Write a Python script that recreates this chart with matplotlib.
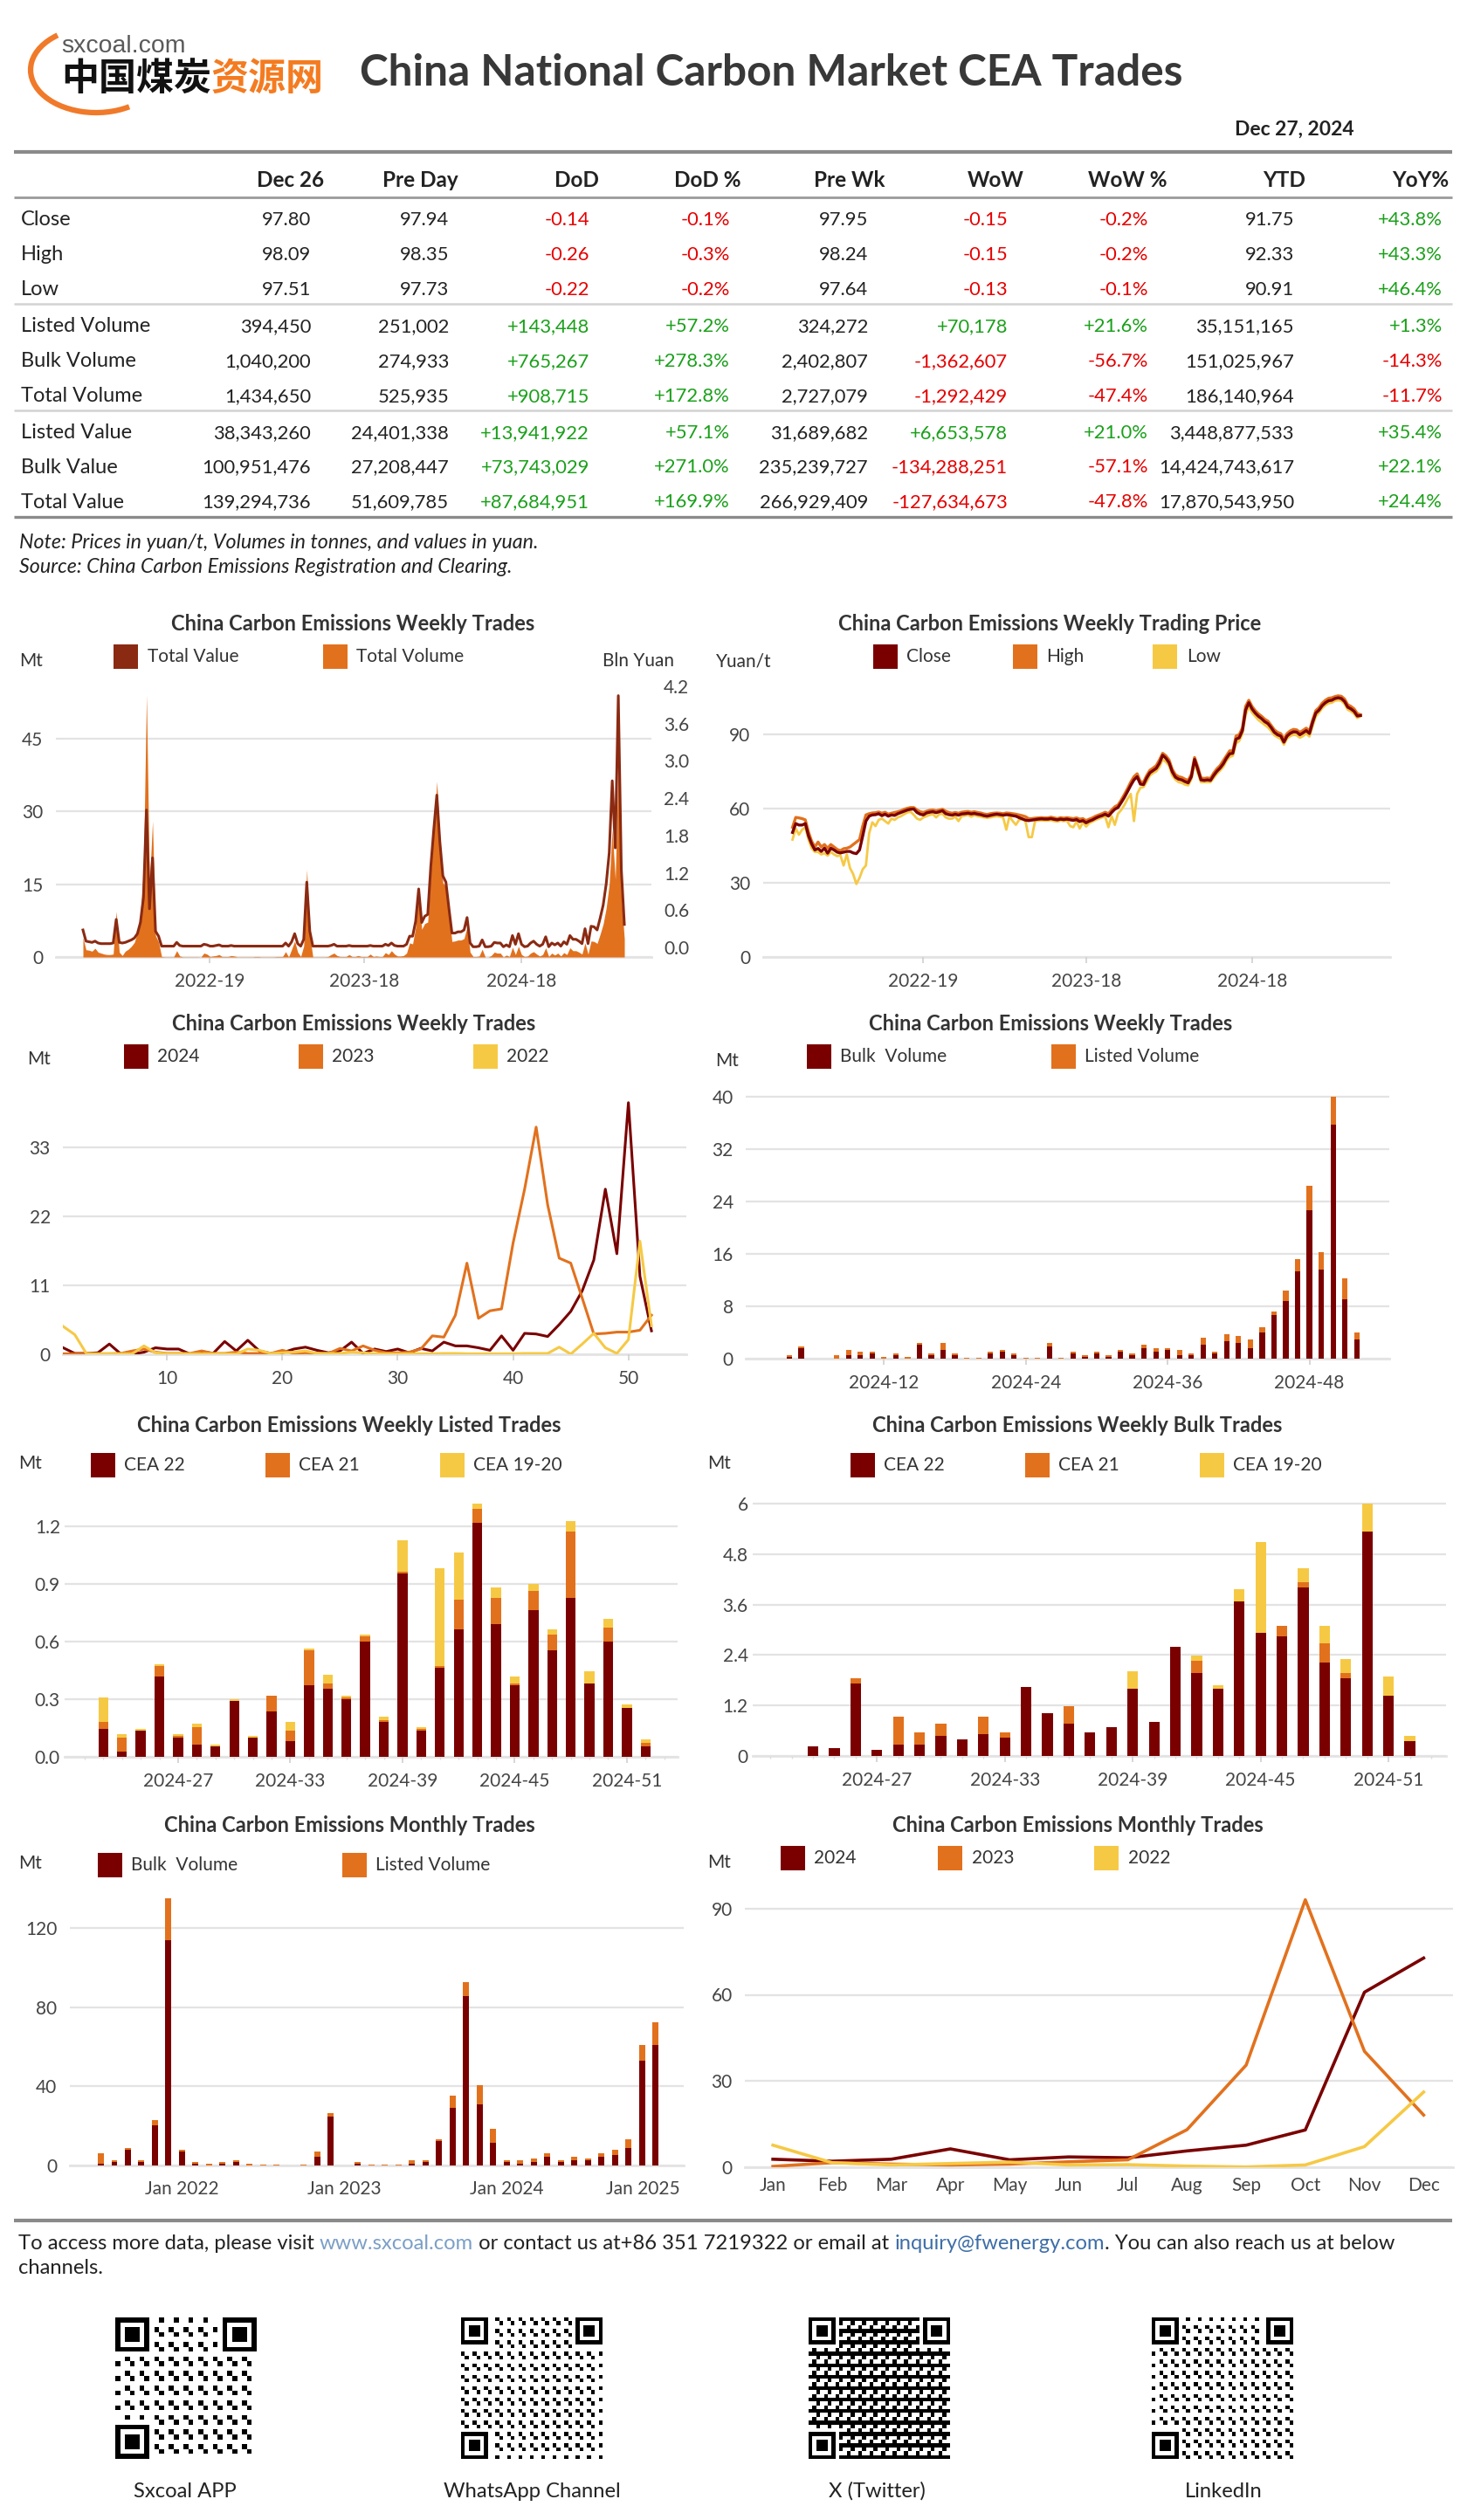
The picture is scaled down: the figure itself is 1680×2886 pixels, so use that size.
import numpy as np
import matplotlib
matplotlib.use("Agg")
import matplotlib.pyplot as plt
from matplotlib.patches import Rectangle, Arc
from matplotlib.ticker import FormatStrFormatter

W, H, DPI = 1680, 2886, 100
plt.rcParams['font.family'] = ['Lato', 'DejaVu Sans']

DARK = '#7a0000'
ORANGE = '#e2711d'
YELLOW = '#f6c945'
VALUE_RED = '#8b2a12'
GRID = '#e3e3e3'
TXT = '#333333'
TICK = '#444444'
RED = '#e60000'
GREEN = '#1aa01a'

# ---------------- table data ----------------
headers = ['Dec 26', 'Pre Day', 'DoD', 'DoD %', 'Pre Wk', 'WoW', 'WoW %', 'YTD', 'YoY%']
row_names = ['Close', 'High', 'Low', 'Listed Volume', 'Bulk Volume', 'Total Volume',
             'Listed Value', 'Bulk Value', 'Total Value']
table_rows = [
    ['97.80', '97.94', '-0.14', '-0.1%', '97.95', '-0.15', '-0.2%', '91.75', '+43.8%'],
    ['98.09', '98.35', '-0.26', '-0.3%', '98.24', '-0.15', '-0.2%', '92.33', '+43.3%'],
    ['97.51', '97.73', '-0.22', '-0.2%', '97.64', '-0.13', '-0.1%', '90.91', '+46.4%'],
    ['394,450', '251,002', '+143,448', '+57.2%', '324,272', '+70,178', '+21.6%', '35,151,165', '+1.3%'],
    ['1,040,200', '274,933', '+765,267', '+278.3%', '2,402,807', '-1,362,607', '-56.7%', '151,025,967', '-14.3%'],
    ['1,434,650', '525,935', '+908,715', '+172.8%', '2,727,079', '-1,292,429', '-47.4%', '186,140,964', '-11.7%'],
    ['38,343,260', '24,401,338', '+13,941,922', '+57.1%', '31,689,682', '+6,653,578', '+21.0%', '3,448,877,533', '+35.4%'],
    ['100,951,476', '27,208,447', '+73,743,029', '+271.0%', '235,239,727', '-134,288,251', '-57.1%', '14,424,743,617', '+22.1%'],
    ['139,294,736', '51,609,785', '+87,684,951', '+169.9%', '266,929,409', '-127,634,673', '-47.8%', '17,870,543,950', '+24.4%'],
]

# ---------------- weekly volume (Mt), 2021-29 .. 2024-52 ----------------
vol_2021 = [4.0, 1.5, 1.4, 1.2, 1.8, 1.0, 0.8, 0.6, 0.5, 0.5, 0.6, 9.4, 1.0, 0.3, 1.2, 1.6,
            2.2, 3.0, 5.0, 9.0, 18.0, 54.0, 15.0, 28.0]
vol_2022 = [4.4, 3.1, 0.1, 0.05, 0.05, 0.05, 0.05, 1.3, 0.2, 0.05,
            0.05, 0.05, 0.05, 0.05, 0.05, 0.0, 0.8, 0.6, 0.1, 0.2,
            0.3, 0.5, 0.1, 0.1, 0.1, 0.3, 0.2, 0.05, 0.05, 0.05,
            0.05, 0.05, 0.05, 0.1, 0.1, 0.05, 0.05, 0.05, 0.05, 0.05,
            0.1, 0.1, 0.1, 1.1, 0.0, 1.6, 3.3, 1.0, 0.1, 2.3,
            18.0, 4.5]
vol_2023 = [0.05, 0.05, 0.05, 0.05, 0.05, 0.1, 0.5, 0.8, 0.3, 0.1,
            0.1, 0.1, 0.5, 0.1, 0.1, 0.3, 0.1, 0.1, 0.1, 0.6,
            0.1, 0.2, 0.1, 0.1, 0.9, 0.5, 1.3, 0.6, 0.2, 0.2,
            0.3, 0.8, 2.9, 2.7, 6.2, 14.5, 5.7, 6.9, 7.2, 17.7,
            26.3, 36.2, 23.8, 15.3, 14.5, 8.9, 3.2, 3.3, 3.5, 3.5,
            3.8, 6.2]
vol_2024 = [1.0, 0.1, 0.1, 0.2, 1.6, 0.0, 0.0, 0.3, 1.0, 0.8,
            0.8, 0.0, 0.4, 0.1, 2.0, 0.5, 2.2, 0.5, 0.1, 0.2,
            0.8, 1.1, 0.6, 0.2, 0.5, 1.9, 0.1, 0.8, 0.4, 0.8,
            0.2, 0.9, 0.5, 1.9, 1.3, 1.3, 1.0, 0.6, 2.9, 0.6,
            3.3, 3.2, 2.8, 4.7, 6.8, 10.1, 15.0, 26.3, 16.0, 40.1,
            12.4, 3.7]

# weekly total value (bln yuan)
val_2021 = [0.28, 0.10, 0.09, 0.08, 0.10, 0.07, 0.06, 0.06, 0.06, 0.06, 0.07, 0.45, 0.08, 0.07,
            0.08, 0.10, 0.12, 0.15, 0.22, 0.40, 0.80, 2.21, 0.62, 1.44]
val_2022 = [0.26, 0.18, 0.02, 0.02, 0.02, 0.02, 0.02, 0.08, 0.03, 0.02,
            0.02, 0.02, 0.02, 0.02, 0.02, 0.02, 0.05, 0.04, 0.02, 0.02,
            0.03, 0.04, 0.02, 0.02, 0.02, 0.03, 0.02, 0.02, 0.02, 0.02,
            0.02, 0.02, 0.02, 0.02, 0.02, 0.02, 0.02, 0.02, 0.02, 0.02,
            0.02, 0.02, 0.02, 0.07, 0.02, 0.09, 0.22, 0.06, 0.02, 0.13,
            1.05, 0.26]
val_2023 = [0.02, 0.02, 0.02, 0.02, 0.02, 0.02, 0.03, 0.05, 0.02, 0.02,
            0.02, 0.02, 0.03, 0.02, 0.02, 0.02, 0.02, 0.02, 0.02, 0.03,
            0.02, 0.02, 0.02, 0.02, 0.05, 0.03, 0.07, 0.03, 0.02, 0.02,
            0.02, 0.05, 0.18, 0.18, 0.42, 0.94, 0.40, 0.50, 0.53, 1.30,
            1.90, 2.45, 1.70, 1.15, 1.05, 0.63, 0.23, 0.23, 0.25, 0.25,
            0.28, 0.48]
val_2024 = [0.07, 0.01, 0.01, 0.02, 0.12, 0.01, 0.01, 0.02, 0.08, 0.07,
            0.07, 0.01, 0.04, 0.01, 0.19, 0.05, 0.22, 0.05, 0.01, 0.02,
            0.07, 0.10, 0.05, 0.02, 0.05, 0.17, 0.01, 0.07, 0.04, 0.07,
            0.02, 0.09, 0.05, 0.19, 0.13, 0.13, 0.10, 0.06, 0.30, 0.06,
            0.34, 0.33, 0.28, 0.47, 0.68, 1.02, 1.52, 2.68, 1.60, 4.05,
            1.25, 0.37]

# ---------------- weekly price (yuan/t) ----------------
close = [50.4, 54.0, 53.4, 53.4, 54.0, 49.0, 45.7, 43.3, 43.9, 42.7,
         44.0, 42.0, 44.0, 43.3, 42.4, 42.1, 42.4, 42.7, 42.7, 42.1,
         41.8, 43.3, 49.0, 55.0, 57.0, 57.5, 57.6, 58.0, 57.2, 57.8,
         57.0, 57.5, 57.3, 58.0, 58.5, 59.0, 59.5, 59.8, 59.9, 58.5,
         57.8, 57.5, 58.3, 58.6, 58.8, 58.4, 58.8, 59.2, 58.0, 57.6,
         57.4, 57.8, 57.4, 57.9, 58.0, 58.2, 57.9, 58.1, 57.8, 57.6,
         57.2, 57.0, 57.3, 57.6, 57.8, 57.6, 57.4, 57.6, 57.5, 57.2,
         57.0, 56.4, 55.9, 55.4, 55.2, 55.4, 55.6, 55.8, 55.9, 55.8,
         55.8, 56.0, 55.7, 55.5, 55.8, 55.6, 55.8, 55.5, 55.3, 55.6,
         54.8, 55.2, 54.3, 55.0, 55.5, 56.2, 56.8, 57.2, 57.8, 57.0,
         58.5, 59.8, 60.5, 62.5, 64.6, 67.0, 69.5, 71.7, 73.0, 70.0,
         69.8, 72.5, 74.6, 75.5, 76.4, 78.5, 81.7, 80.5, 78.7, 75.0,
         72.8, 72.0, 71.7, 71.0, 70.5, 73.0, 80.0, 76.0, 71.7, 71.5,
         71.7, 71.5, 73.5, 75.2, 76.5, 78.2, 80.5, 82.3, 82.5, 88.2,
         88.8, 91.7, 100.0, 103.0, 100.5, 98.8, 97.5, 96.5, 95.3, 94.5,
         92.9, 91.0, 90.0, 89.5, 87.0, 89.5, 90.6, 91.2, 91.1, 90.0,
         90.8, 91.7, 90.5, 95.0, 98.8, 100.0, 101.8, 103.0, 103.8, 104.0,
         104.7, 105.0, 104.7, 103.5, 101.2, 100.5, 99.5, 97.6, 97.8]
high = [52.5, 56.5, 56.3, 56.0, 55.5, 50.5, 46.8, 44.5, 46.5, 44.5,
        45.5, 44.0, 45.5, 44.5, 43.5, 43.0, 43.8, 44.0, 44.5, 45.5,
        46.5, 47.5, 53.0, 57.5, 58.0, 58.3, 58.4, 58.7, 58.2, 58.6,
        57.8, 58.2, 58.5, 58.8, 59.2, 59.8, 60.2, 60.5, 60.5, 59.5,
        58.8, 58.5, 59.0, 59.4, 59.5, 59.2, 59.5, 59.8, 59.0, 58.5,
        58.2, 58.5, 58.2, 58.6, 58.8, 58.9, 58.6, 58.8, 58.5, 58.3,
        57.9, 57.7, 58.0, 58.2, 58.3, 58.2, 58.0, 58.3, 58.2, 58.0,
        57.8, 57.5, 57.2, 56.8, 56.0, 56.0, 56.2, 56.3, 56.4, 56.3,
        56.3, 56.6, 56.3, 56.0, 56.4, 56.2, 56.4, 56.2, 56.0, 56.3,
        55.8, 56.0, 55.2, 55.8, 56.3, 57.0, 57.5, 58.0, 58.6, 58.0,
        59.5, 60.8, 61.5, 63.5, 65.8, 68.2, 70.8, 73.0, 74.2, 71.0,
        70.8, 73.5, 75.6, 76.5, 77.5, 79.8, 82.5, 81.5, 79.8, 76.0,
        73.8, 73.0, 72.7, 72.0, 71.5, 74.0, 80.8, 77.0, 72.5, 72.3,
        72.5, 72.3, 74.5, 76.2, 77.5, 79.5, 81.5, 83.5, 83.5, 89.5,
        90.0, 92.8, 101.5, 104.0, 101.5, 99.8, 98.5, 97.5, 96.3, 95.5,
        93.8, 92.0, 91.0, 90.5, 88.2, 90.5, 91.6, 92.2, 92.0, 91.0,
        91.8, 92.7, 91.5, 96.0, 99.8, 101.0, 102.8, 104.0, 104.8, 105.0,
        105.5, 105.8, 105.6, 104.5, 102.2, 101.5, 100.5, 98.6, 98.1]
low = [47.5, 52.0, 49.5, 51.5, 52.5, 47.5, 44.0, 42.5, 42.5, 41.5,
       42.0, 41.0, 42.5, 41.5, 40.8, 41.2, 37.0, 41.5, 36.0, 33.5,
       29.5, 32.0, 35.5, 37.0, 50.0, 54.5, 53.0, 55.5, 56.0, 55.0,
       54.0, 56.0, 55.5, 56.5, 57.0, 57.8, 58.5, 58.8, 57.5, 56.0,
       55.5, 56.5, 57.0, 57.5, 57.8, 56.5, 57.8, 58.0, 56.5, 56.0,
       56.0, 56.8, 55.0, 57.0, 57.2, 57.5, 56.8, 57.4, 57.0, 56.8,
       56.5, 56.3, 56.5, 56.8, 57.0, 56.8, 56.5, 51.5, 57.0, 55.0,
       53.5, 55.5, 55.8, 55.0, 48.5, 48.5, 55.0, 55.2, 55.3, 55.2,
       55.2, 55.4, 55.0, 54.8, 55.2, 55.0, 55.2, 53.0, 52.5, 54.8,
       52.0, 54.5, 52.8, 54.2, 54.8, 55.5, 56.0, 56.5, 56.8, 52.5,
       57.0, 53.5, 58.0, 59.5, 61.5, 64.0, 66.0, 55.0, 66.0, 68.5,
       68.8, 71.0, 73.5, 74.5, 75.2, 77.0, 80.0, 79.0, 77.5, 73.5,
       71.8, 70.8, 70.5, 69.8, 69.5, 72.0, 78.5, 74.5, 70.8, 70.8,
       70.8, 70.8, 72.5, 74.2, 75.5, 77.0, 79.5, 81.0, 81.5, 86.5,
       87.5, 90.5, 98.0, 101.5, 99.0, 97.5, 96.0, 95.0, 94.0, 93.0,
       91.5, 89.8, 89.0, 88.3, 86.0, 88.5, 89.5, 90.0, 89.8, 88.8,
       89.5, 90.5, 89.3, 93.5, 97.5, 99.0, 100.8, 102.0, 102.8, 103.0,
       103.8, 104.0, 103.8, 102.5, 100.2, 99.5, 98.5, 96.8, 97.5]

# ---------------- 2024 weekly bulk / listed (Mt) ----------------
bulk_2024 = [0, 0, 0, 0.2, 1.6, 0, 0, 0, 0.5, 0.5, 0.8, 0, 0.5, 0, 2.1, 0.5, 1.3, 0.5, 0, 0,
             0.8, 1.0, 0.5, 0, 0, 1.8, 0, 0.8, 0.2, 0.8, 0.2, 1.0, 0.5, 1.6, 1.0, 1.3, 0.5, 0.5,
             2.1, 0.8, 2.6, 2.4, 1.6, 4.0, 6.6, 8.8, 13.3, 22.6, 13.6, 35.7, 9.0, 2.9]
listed_2024 = [0, 0, 0, 0.3, 0.2, 0, 0, 0.5, 0.8, 0.5, 0.2, 0.2, 0.3, 0.2, 0.3, 0.3, 1.1, 0.3, 0.1,
               0.1, 0.2, 0.3, 0.3, 0.1, 0.1, 0.6, 0.1, 0.2, 0.3, 0.2, 0.3, 0.3, 0.3, 0.5, 0.6, 0.3,
               0.8, 0.3, 1.1, 0.2, 1.1, 1.0, 1.3, 0.8, 0.6, 1.5, 1.9, 3.8, 2.6, 4.3, 3.2, 1.1]

# ---------------- weekly listed trades by vintage, 2024-23 .. 2024-52 ----------------
listed_weeks = list(range(23, 53))
listed_cea22 = [0.144, 0.026, 0.135, 0.417, 0.098, 0.062, 0.053, 0.289, 0.098, 0.235,
                0.080, 0.371, 0.353, 0.298, 0.598, 0.180, 0.953, 0.135, 0.462, 0.662,
                1.217, 0.689, 0.371, 0.762, 0.553, 0.826, 0.380, 0.598, 0.253, 0.053]
listed_cea21 = [0.036, 0.072, 0.0, 0.054, 0.010, 0.091, 0.0, 0.0, 0.0, 0.082,
                0.055, 0.182, 0.027, 0.010, 0.028, 0.009, 0.009, 0.009, 0.009, 0.155,
                0.072, 0.137, 0.009, 0.100, 0.082, 0.345, 0.0, 0.073, 0.0, 0.018]
listed_cea1920 = [0.128, 0.019, 0.009, 0.009, 0.009, 0.018, 0.009, 0.009, 0.010, 0.0,
                  0.045, 0.009, 0.046, 0.009, 0.009, 0.019, 0.164, 0.009, 0.509, 0.245,
                  0.028, 0.054, 0.037, 0.036, 0.027, 0.055, 0.064, 0.046, 0.018, 0.018]

# ---------------- weekly bulk trades by vintage, 2024-24 .. 2024-52 ----------------
bulk_weeks = list(range(24, 53))
bulk_cea22 = [0.23, 0.19, 1.72, 0.15, 0.27, 0.27, 0.48, 0.39, 0.52, 0.44, 1.64, 1.02, 0.77, 0.56,
              0.69, 1.60, 0.81, 2.60, 1.97, 1.60, 3.68, 2.93, 2.85, 4.01, 2.22, 1.85, 5.34, 1.43, 0.35]
bulk_cea21 = [0, 0, 0.13, 0, 0.66, 0.29, 0.29, 0, 0.41, 0.12, 0, 0, 0.41, 0, 0, 0, 0, 0, 0.29,
              0, 0, 0, 0.25, 0.12, 0.46, 0.12, 0, 0, 0]
bulk_cea1920 = [0, 0, 0, 0, 0, 0, 0, 0, 0, 0, 0, 0, 0, 0, 0, 0.42, 0, 0, 0.13, 0.08, 0.29, 2.16,
                0, 0.34, 0.42, 0.34, 0.66, 0.46, 0.13]

# ---------------- monthly bulk / listed (Mt), Jul 2021 .. Dec 2024 ----------------
monthly_bulk = [0.9, 1.8, 7.9, 1.8, 20.3, 113.8,
                7.1, 0.9, 0.0, 0.9, 1.8, 0.1, 0.0, 0.0, 0.0, 0.0, 4.4, 24.7,
                0.0, 0.9, 0.0, 0.0, 0.0, 0.9, 1.8, 12.4, 29.1, 85.6, 30.9, 11.5,
                1.8, 0.9, 1.8, 4.4, 1.8, 2.6, 2.6, 4.4, 5.3, 8.8, 52.9, 60.9]
monthly_listed = [5.3, 0.8, 0.9, 0.8, 2.6, 21.2,
                  0.8, 0.9, 0.9, 0.9, 0.8, 0.6, 0.6, 0.6, 0.0, 0.6, 2.7, 1.8,
                  0.0, 0.9, 0.6, 0.6, 0.6, 1.7, 0.8, 0.8, 6.2, 7.0, 9.7, 7.0,
                  0.8, 1.7, 1.7, 1.8, 0.8, 1.8, 0.9, 1.8, 2.6, 4.4, 8.0, 11.5]

# ---------------- monthly totals by year (Mt) ----------------
months = ['Jan', 'Feb', 'Mar', 'Apr', 'May', 'Jun', 'Jul', 'Aug', 'Sep', 'Oct', 'Nov', 'Dec']
mon_2024 = [2.7, 2.0, 2.7, 6.3, 2.5, 3.5, 3.2, 5.6, 7.6, 12.9, 60.9, 72.8]
mon_2023 = [0.2, 1.5, 1.0, 0.7, 1.0, 1.8, 2.5, 13.0, 35.5, 93.1, 40.3, 18.1]
mon_2022 = [7.6, 1.5, 0.7, 1.2, 1.7, 0.7, 0.8, 0.3, 0.0, 0.7, 7.1, 26.1]

# ================= figure =================
fig = plt.figure(figsize=(W / DPI, H / DPI), dpi=DPI)
ov = fig.add_axes([0, 0, 1, 1], zorder=10)
ov.set_xlim(0, W)
ov.set_ylim(H, 0)
ov.axis('off')
renderer = fig.canvas.get_renderer()


def rect(x0, x1, ytop, ybot):
    return [x0 / W, 1 - ybot / H, (x1 - x0) / W, (ybot - ytop) / H]


def txt(x, y, s, size=15, color=TXT, ha='left', va='center', **kw):
    return ov.text(x, y, s, fontsize=size, color=color, ha=ha, va=va, **kw)


def fit(t, width):
    w = t.get_window_extent(renderer).width
    t.set_fontsize(t.get_fontsize() * width / w)
    return t.get_fontsize()


def hline(y, x0, x1, color, lw):
    ov.plot([x0, x1], [y, y], color=color, lw=lw, solid_capstyle='butt')


# ---- header / logo ----
ov.add_patch(Arc((110, 80), 150, 98, theta1=48, theta2=222, color='#f07a2a', lw=4.5))
t = txt(70, 53, 'sxcoal.com', color='#5a5a5a', size=15,
        family=['Liberation Sans', 'DejaVu Sans'])
fit(t, 142)
t = txt(70, 90, '中国煤炭', size=31, color='#111111', fontweight='heavy',
        family=['Noto Sans CJK SC', 'DejaVu Sans'])
w_cn = t.get_window_extent(renderer).width
txt(70 + w_cn, 90, '资源网', size=31, color='#f47b20', fontweight='heavy',
    family=['Noto Sans CJK SC', 'DejaVu Sans'])
t = txt(412, 84, 'China National Carbon Market CEA Trades', size=30, color='#383838',
        fontweight='bold')
fit(t, 941)
t = txt(1551, 148, 'Dec 27, 2024', size=16, color='#222222', ha='right', fontweight='bold')
fit(t, 137)

# ---- table ----
hdr_right = [371, 525, 686, 849, 1013, 1173, 1337, 1495, 1659]
val_right = [356, 514, 675, 836, 994, 1154, 1315, 1482, 1652]
row_y = [252, 292, 332, 374, 414, 454, 496, 535, 575]
hline(174, 16, 1663, '#8a8a8a', 3)
hline(226, 16, 1663, '#9a9a9a', 2)
hline(348, 16, 1663, '#d2d2d2', 1.8)
hline(470, 16, 1663, '#d2d2d2', 1.8)
hline(592, 16, 1663, '#8a8a8a', 2.4)
for hx, hd in zip(hdr_right, headers):
    txt(hx, 207, hd, size=17.5, color='#222222', ha='right', fontweight='bold')
for ry, name, row in zip(row_y, row_names, table_rows):
    txt(24, ry, name, size=17, color='#222222')
    for ci, (vx, cell) in enumerate(zip(val_right, row)):
        c = '#222222'
        if ci in (2, 3, 5, 6, 8):
            c = GREEN if cell.startswith('+') else RED
        txt(vx, ry, cell, size=15.8, color=c, ha='right')
t = txt(22, 621, 'Note: Prices in yuan/t, Volumes in tonnes, and values in yuan.',
        size=15, color='#222222', style='italic')
fs_note = fit(t, 595)
txt(22, 650, 'Source: China Carbon Emissions Registration and Clearing.',
    size=fs_note, color='#222222', style='italic')


# ---- chart helpers ----
def chart_axes(x0, x1, ytop, ybot, ypad=10.5, xlen=5, xpad=8):
    ax = fig.add_axes(rect(x0, x1, ytop, ybot))
    for s in ax.spines.values():
        s.set_visible(False)
    ax.patch.set_alpha(0)
    ax.grid(axis='y', color=GRID, lw=1.6)
    ax.set_axisbelow(True)
    ax.tick_params(axis='y', length=0, labelsize=15, labelcolor=TICK, pad=ypad)
    ax.tick_params(axis='x', length=xlen, width=1.2, color='#d0d0d0', labelsize=15,
                   labelcolor=TICK, pad=xpad)
    ax.axhline(0, color=GRID, lw=2, clip_on=False, zorder=0.5)
    return ax


def legend(items, y):
    for xs, xt, c, lab in items:
        ov.add_patch(Rectangle((xs, y - 14), 28, 28, color=c, lw=0))
        txt(xt, y, lab, size=15)


title_t = txt(404, 714, 'China Carbon Emissions Weekly Trades', size=16, ha='center',
              fontweight='bold')
fs_title = fit(title_t, 418)


def title(x, y, s):
    txt(x, y, s, size=fs_title, ha='center', fontweight='bold')


# ---- chart 1: weekly total volume / value ----
total_vol = np.array(vol_2021 + vol_2022 + vol_2023 + vol_2024)
total_val = np.array(val_2021 + val_2022 + val_2023 + val_2024)
x_wk = np.arange(len(total_vol))
ax1 = chart_axes(64, 746, 786, 1096)
ax1.fill_between(x_wk, total_vol, color=ORANGE, lw=0)
ax1.set_xlim(-8.95, 187.95)
ax1.set_ylim(0, 55.8)
ax1.set_yticks([0, 15, 30, 45])
ax1.set_xticks([42, 93, 145])
ax1.set_xticklabels(['2022-19', '2023-18', '2024-18'])
ax1r = ax1.twinx()
ax1r.plot(x_wk, total_val, color=VALUE_RED, lw=2.2)
ax1r.set_ylim(-0.155, 4.2)
ax1r.set_yticks([0, 0.6, 1.2, 1.8, 2.4, 3.0, 3.6, 4.2])
ax1r.yaxis.set_major_formatter(FormatStrFormatter('%.1f'))
for s in ax1r.spines.values():
    s.set_visible(False)
ax1r.tick_params(axis='y', length=0, labelsize=15, labelcolor=TICK, pad=10)
legend([(130, 169, VALUE_RED, 'Total Value'), (370, 408, ORANGE, 'Total Volume')], 752)
txt(22, 757, 'Mt')
txt(690, 757, 'Bln Yuan')

# ---- chart 2: weekly price ----
x_pr = np.arange(1, len(close) + 1)
ax2 = chart_axes(874, 1592, 785, 1095.7)
ax2.plot(x_pr, low, color=YELLOW, lw=2.0)
ax2.plot(x_pr, high, color=ORANGE, lw=2.4)
ax2.plot(x_pr, close, color=DARK, lw=2.4)
ax2.set_xlim(-8.2, 188.3)
ax2.set_ylim(0, 110)
ax2.set_yticks([0, 30, 60, 90])
ax2.set_xticks([42, 93, 145])
ax2.set_xticklabels(['2022-19', '2023-18', '2024-18'])
title(1202, 714, 'China Carbon Emissions Weekly Trading Price')
legend([(1000, 1038, DARK, 'Close'), (1160, 1198, ORANGE, 'High'),
        (1320, 1359, YELLOW, 'Low')], 752)
txt(820, 757, 'Yuan/t')

# ---- chart 3: weekly trades by year ----
wk = np.arange(1, 53)
ax3 = chart_axes(72.4, 785.7, 1234.8, 1550.7)
ax3.plot(wk, vol_2024, color=DARK, lw=2.2)
ax3.plot(wk, vol_2023, color=ORANGE, lw=2.2)
ax3.plot(wk, vol_2022, color=YELLOW, lw=2.2)
ax3.set_xlim(1, 55)
ax3.set_ylim(0, 44)
ax3.set_yticks([0, 11, 22, 33])
ax3.set_xticks([10, 20, 30, 40, 50])
title(405, 1173, 'China Carbon Emissions Weekly Trades')
legend([(142, 180, DARK, '2024'), (342, 380, ORANGE, '2023'), (542, 580, YELLOW, '2022')], 1210)
txt(31, 1213, 'Mt')

# ---- chart 4: 2024 weekly bulk / listed ----
ax4 = chart_axes(854.4, 1591.2, 1240.7, 1555.7)
ax4.bar(wk, bulk_2024, 0.46, color=DARK, lw=0)
ax4.bar(wk, listed_2024, 0.46, bottom=bulk_2024, color=ORANGE, lw=0)
ax4.set_xlim(0.33, 54.77)
ax4.set_ylim(0, 42)
ax4.set_yticks([0, 8, 16, 24, 32, 40])
ax4.set_xticks([12, 24, 36, 48])
ax4.set_xticklabels(['2024-12', '2024-24', '2024-36', '2024-48'])
title(1203, 1173, 'China Carbon Emissions Weekly Trades')
legend([(924, 962, DARK, 'Bulk  Volume'), (1204, 1242, ORANGE, 'Listed Volume')], 1210)
txt(819, 1215, 'Mt')

# ---- chart 5: weekly listed trades by vintage ----
ax5 = chart_axes(74, 775.5, 1712.5, 2011.7, ypad=3.6)
b1 = np.array(listed_cea22)
b2 = b1 + np.array(listed_cea21)
ax5.bar(listed_weeks, listed_cea22, 0.53, color=DARK, lw=0)
ax5.bar(listed_weeks, listed_cea21, 0.53, bottom=b1, color=ORANGE, lw=0)
ax5.bar(listed_weeks, listed_cea1920, 0.53, bottom=b2, color=YELLOW, lw=0)
ax5.set_xlim(20.93, 53.69)
ax5.set_ylim(0, 1.36)
ax5.set_yticks([0, 0.3, 0.6, 0.9, 1.2])
ax5.yaxis.set_major_formatter(FormatStrFormatter('%.1f'))
ax5.set_xticks([27, 33, 39, 45, 51])
ax5.set_xticklabels(['2024-27', '2024-33', '2024-39', '2024-45', '2024-51'])
ax5.set_xticks(range(22, 54), minor=True)
ax5.tick_params(axis='x', which='minor', length=2, width=1, color='#dddddd')
title(400, 1632, 'China Carbon Emissions Weekly Listed Trades')
legend([(104, 142, DARK, 'CEA 22'), (304, 342, ORANGE, 'CEA 21'),
        (504, 542, YELLOW, 'CEA 19-20')], 1678)
txt(21, 1676, 'Mt')

# ---- chart 6: weekly bulk trades by vintage ----
ax6 = chart_axes(861.7, 1655.8, 1697.9, 2011, ypad=3.6)
c1 = np.array(bulk_cea22)
c2 = c1 + np.array(bulk_cea21)
ax6.bar(bulk_weeks, bulk_cea22, 0.5, color=DARK, lw=0)
ax6.bar(bulk_weeks, bulk_cea21, 0.5, bottom=c1, color=ORANGE, lw=0)
ax6.bar(bulk_weeks, bulk_cea1920, 0.5, bottom=c2, color=YELLOW, lw=0)
ax6.set_xlim(21.16, 53.69)
ax6.set_ylim(0, 6.5)
ax6.set_yticks([0, 1.2, 2.4, 3.6, 4.8, 6])
ax6.set_yticklabels(['0', '1.2', '2.4', '3.6', '4.8', '6'])
ax6.set_xticks([27, 33, 39, 45, 51])
ax6.set_xticklabels(['2024-27', '2024-33', '2024-39', '2024-45', '2024-51'])
ax6.set_xticks(range(22, 54), minor=True)
ax6.tick_params(axis='x', which='minor', length=2, width=1, color='#dddddd')
title(1234, 1632, 'China Carbon Emissions Weekly Bulk Trades')
legend([(974, 1012, DARK, 'CEA 22'), (1174, 1212, ORANGE, 'CEA 21'),
        (1374, 1412, YELLOW, 'CEA 19-20')], 1678)
txt(810, 1676, 'Mt')

# ---- chart 7: monthly bulk / listed ----
m_idx = np.arange(len(monthly_bulk))
ax7 = chart_axes(80, 783, 2162.6, 2480, xlen=0, xpad=12)
ax7.bar(m_idx, monthly_bulk, 0.43, color=DARK, lw=0)
ax7.bar(m_idx, monthly_listed, 0.43, bottom=monthly_bulk, color=ORANGE, lw=0)
ax7.set_xlim(-2.28, 43.08)
ax7.set_ylim(0, 140)
ax7.set_yticks([0, 40, 80, 120])
ax7.set_xticks([6, 18, 30, 40.05])
ax7.set_xticklabels(['Jan 2022', 'Jan 2023', 'Jan 2024', 'Jan 2025'])
title(400, 2091, 'China Carbon Emissions Monthly Trades')
legend([(112, 150, DARK, 'Bulk  Volume'), (392, 430, ORANGE, 'Listed Volume')], 2136)
txt(21, 2134, 'Mt')

# ---- chart 8: monthly trades by year ----
mi = np.arange(12)
ax8 = chart_axes(853.3, 1664.2, 2136.6, 2481.7, xlen=0, xpad=8)
ax8.plot(mi, mon_2024, color=DARK, lw=2.6)
ax8.plot(mi, mon_2023, color=ORANGE, lw=2.6)
ax8.plot(mi, mon_2022, color=YELLOW, lw=2.6)
ax8.set_xlim(-0.47, 11.5)
ax8.set_ylim(0, 105)
ax8.set_yticks([0, 30, 60, 90])
ax8.set_xticks(mi)
ax8.set_xticklabels(months)
title(1234, 2091, 'China Carbon Emissions Monthly Trades')
legend([(894, 932, DARK, '2024'), (1074, 1113, ORANGE, '2023'), (1253, 1292, YELLOW, '2022')], 2128)
txt(810, 2133, 'Mt')

# ---- footer ----
hline(2543, 16, 1663, '#8a8a8a', 3)
pieces = [('To access more data, please visit ', '#222222'), ('www.sxcoal.com', '#7b9fc7'),
          (' or contact us at+86 351 7219322 or email at ', '#222222'),
          ('inquiry@fwenergy.com', '#3e6ea8'), ('. You can also reach us at below', '#222222')]
texts = []
for s, c in pieces:
    texts.append(txt(0, 2569, s, size=15, color=c))
total_w = sum(tt.get_window_extent(renderer).width for tt in texts)
fs_foot = 15 * 1581 / total_w
xcur = 21
for tt in texts:
    tt.set_fontsize(fs_foot)
    tt.set_x(xcur)
    xcur += tt.get_window_extent(renderer).width
txt(21, 2598, 'channels.', size=fs_foot, color='#222222')


def qr_block(x0, y0, size, n, k):
    i, j = np.mgrid[0:n, 0:n]
    m = ((i * i + j * k + i * j) % 3 == 0).astype(float)
    for a, b in [(0, 0), (0, n - 7), (n - 7, 0)]:
        m[max(a - 1, 0):a + 8, max(b - 1, 0):b + 8] = 0
        m[a:a + 7, b:b + 7] = 1
        m[a + 1:a + 6, b + 1:b + 6] = 0
        m[a + 2:a + 5, b + 2:b + 5] = 1
    axq = fig.add_axes(rect(x0, x0 + size, y0, y0 + size))
    axq.imshow(m, cmap='Greys', vmin=0, vmax=1, interpolation='nearest', aspect='auto')
    axq.axis('off')


qr_labels = ['Sxcoal APP', 'WhatsApp Channel', 'X (Twitter)', 'LinkedIn']
qr_x = [132, 528, 926, 1319]
qr_centres = [212, 609, 1004, 1401]
for qi, (qx, qc, lab) in enumerate(zip(qr_x, qr_centres, qr_labels)):
    qr_block(qx, 2654, 162, 29 if qi == 0 else 37, 5 + 2 * qi)
    txt(qc, 2853, lab, size=fs_foot, color='#222222', ha='center')

fig.savefig('out.png', dpi=DPI)
